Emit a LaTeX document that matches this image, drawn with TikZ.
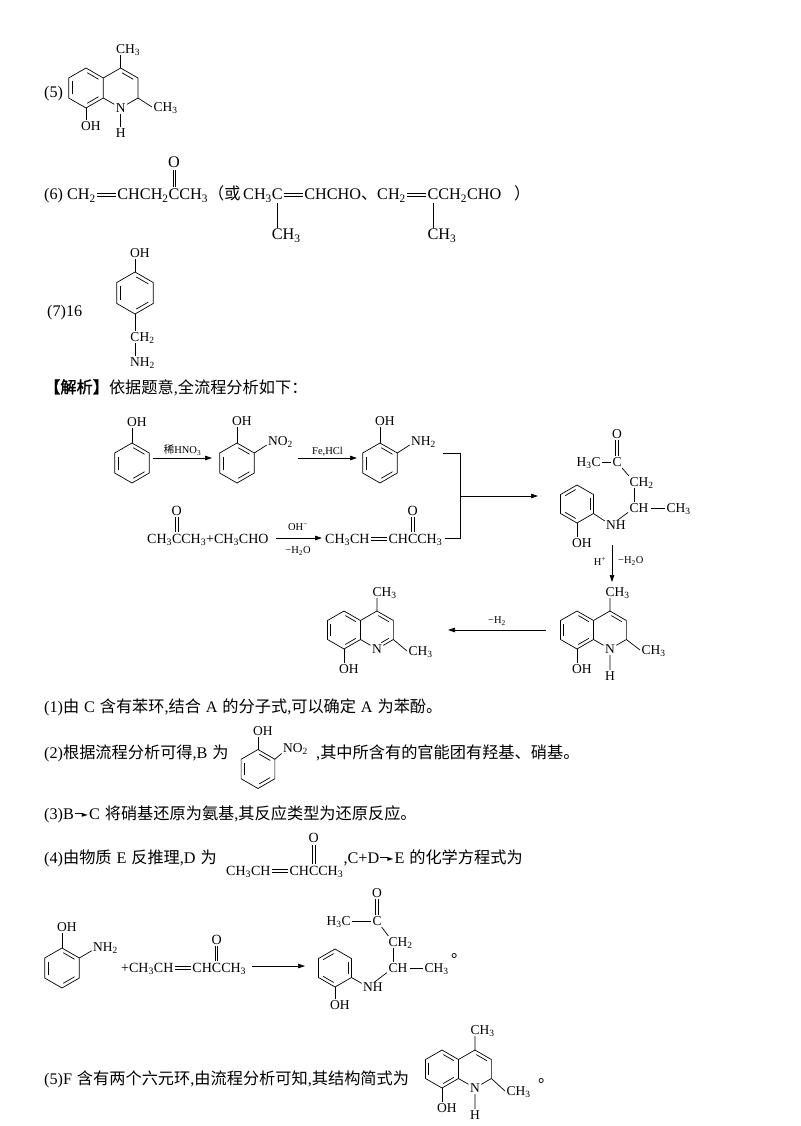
\documentclass[tikz,border=0pt]{standalone}
\usepackage{fontspec}
\usepackage{graphicx}
\setmainfont{Liberation Serif}
\newfontfamily\cjk{Noto Sans CJK SC}
\newfontfamily\cjkb{Noto Sans CJK SC}[FakeBold=1.5]
\newfontfamily\dejavu{DejaVu Sans}
\usetikzlibrary{calc,arrows.meta}
\newcommand\chemf{\fontsize{13.5}{15}\selectfont}
\newcommand\formf{\fontsize{14}{16}\selectfont}
\newcommand\mainf{\fontsize{16.2}{19}\selectfont}
\newcommand\smallf{\fontsize{10.5}{12}\selectfont}
\newcommand\dn[1]{\textsubscript{#1}}
\newcommand\up[1]{\textsuperscript{#1}}
\newcommand\zh[1]{{\cjk #1}}
\newcommand\gp{\hspace{0.3em}}
\newcommand\dbl{\kern1.5pt\rlap{\rule[0.2em]{1.15em}{0.55pt}}\rule[0.42em]{1.15em}{0.55pt}\kern1.5pt}
\newcommand\coC[1][2]{\rlap{\makebox[0.667em]{\raisebox{0.78em}{\rule{0.5pt}{\dimexpr#1em-0.95em\relax}\kern1.6pt\rule{0.5pt}{\dimexpr#1em-0.95em\relax}}}}\rlap{\makebox[0.667em]{\raisebox{#1em}{O}}}C}
\newcommand\meC{\rlap{\makebox[0.667em]{\raisebox{-1.75em}{\rule{0.5pt}{1.55em}}}}\rlap{\makebox[0.667em]{\raisebox{-2.45em}{C\rlap{H\dn3}}}}C}
\newcommand\rar{\kern1pt\rule[0.32em]{0.5em}{0.6pt}\kern-1pt\raisebox{0.1em}{\dejavu\fontsize{8}{8}\selectfont ►}\kern1pt}
\newcommand\hexring[4]{%
 \coordinate (#1-c) at (#2,#3);
 \coordinate (#1-1) at (#2,#3-#4);
 \coordinate (#1-2) at (#2+0.866*#4,#3-0.5*#4);
 \coordinate (#1-3) at (#2+0.866*#4,#3+0.5*#4);
 \coordinate (#1-4) at (#2,#3+#4);
 \coordinate (#1-5) at (#2-0.866*#4,#3+0.5*#4);
 \coordinate (#1-6) at (#2-0.866*#4,#3-0.5*#4);}
\newcommand\hexdraw[1]{\draw[bd] (#1-1)--(#1-2)--(#1-3)--(#1-4)--(#1-5)--(#1-6)--cycle;}
\newcommand\inl[3]{\draw[bd,shorten <=1.5pt,shorten >=1.5pt] ($(#1-#2)!0.2!(#1-c)$) -- ($(#1-#3)!0.2!(#1-c)$);}
\newcommand\benz[1]{\hexdraw{#1}\inl{#1}{5}{6}\inl{#1}{1}{2}\inl{#1}{3}{4}}
\tikzset{
 bd/.style={line width=0.7pt},
 atm/.style={inner sep=1.3pt, font=\chemf, text height=9pt, text depth=0pt},
 tx/.style={anchor=base west, inner sep=0pt, font=\mainf},
 arr/.style={bd,-{Triangle[length=7pt,width=4.5pt]}},
 lab/.style={inner sep=1pt, font=\smallf},
}
\begin{document}
\begin{tikzpicture}[x=1pt,y=-1pt]
\useasboundingbox[fill=white] (0,0) rectangle (800,1126);
% ---------- (5) top
\node[tx] (t5) at (44,98) {(5)};
\hexring{a}{86}{88}{20}\hexring{b}{120.64}{88}{20}
\benz{a}
\node[atm] (aN) at (b-4) {N};
\draw[bd] (b-6)--(b-1)--(b-2)--(b-3);
\draw[bd] (b-3)--(aN); \draw[bd] (aN)--(b-5);
\inl{b}{1}{2}
\node[atm] (aH) at (120.64,133) {H}; \draw[bd] (aN)--(aH);
\node[atm] (aMe1) at (120.64,49) {C\rlap{H\dn3}}; \draw[bd] (b-1)--(aMe1);
\node[atm,anchor=west] (aMe2) at (152,107) {CH\dn3}; \draw[bd] (b-3)--(aMe2.west);
\node[atm] (aOH) at (86,126) {O\rlap{H}}; \draw[bd] (a-4)--(aOH);
% ---------- (6)
\node[tx] (t6) at (44,200) {(6)\ CH\dn2\dbl CHCH\dn2\coC CH\dn3\zh{（或}\,CH\dn3\meC\dbl CHCHO\zh{、}CH\dn2\dbl\meC CH\dn2CHO\hspace{0.8em}\zh{）}};
% ---------- (7)
\node[tx] (t7) at (47,316) {(7)16};
\hexring{c}{135}{293}{21}\benz{c}
\node[atm] (cOH) at (135,253) {O\rlap{H}}; \draw[bd] (c-1)--(cOH);
\node[atm] (cCH2) at (135,337) {C\rlap{H\dn2}}; \draw[bd] (c-4)--(cCH2);
\node[atm] (cNH2) at (135,362) {N\rlap{H\dn2}}; \draw[bd] (cCH2)--(cNH2);
% ---------- jiexi
\node[tx] (tj) at (44,393) {{\cjkb 【解析】}\zh{依据题意},\zh{全流程分析如下：}};
% ---------- scheme row 1
\hexring{p}{132}{463}{20}\benz{p}
\node[atm] (pOH) at (132,422) {O\rlap{H}}; \draw[bd] (p-1)--(pOH);
\coordinate (r1a) at (153,458); \coordinate (r1b) at (212,458);
\draw[arr] (r1a)--(r1b) node[lab,midway,above=1pt] (l1) {\zh{稀}HNO\dn3};
\hexring{q}{237}{463}{20}\benz{q}
\node[atm] (qOH) at (237,421) {O\rlap{H}}; \draw[bd] (q-1)--(qOH);
\node[atm] (qN) at (273,441) {N\rlap{O\dn2}}; \draw[bd] (q-2)--(qN);
\coordinate (r2a) at (298,458); \coordinate (r2b) at (357,458);
\draw[arr] (r2a)--(r2b) node[lab,midway,above=1pt] (l2) {Fe,HCl};
\hexring{s}{380}{463}{20}\benz{s}
\node[atm] (sOH) at (380,421) {O\rlap{H}}; \draw[bd] (s-1)--(sOH);
\node[atm] (sN) at (416,441) {N\rlap{H\dn2}}; \draw[bd] (s-2)--(sN);
% bracket
\coordinate (bk1) at (443,453); \coordinate (bk2) at (460,453);
\coordinate (bk3) at (460,538); \coordinate (bk4) at (445,538);
\coordinate (bkm) at (460,496); \coordinate (bke) at (538,496);
\draw[bd] (bk1)--(bk2)--(bk3)--(bk4);
\draw[arr] (bkm)--(bke);
% ---------- scheme row 2
\node[tx,font=\formf] (r2l) at (147,543) {CH\dn3\coC CH\dn3+CH\dn3CHO};
\coordinate (r3a) at (276,538); \coordinate (r3b) at (322,538);
\draw[arr] (r3a)--(r3b);
\node[lab] (l3a) at (298,527) {OH\up{−}};
\node[lab] (l3b) at (298,551) {−H\dn2O};
\node[tx,font=\formf] (r2r) at (325,543) {CH\dn3CH\dbl CH\coC CH\dn3};
% ---------- product E
\hexring{e}{577}{504}{19}\hexdraw{e}\inl{e}{6}{1}\inl{e}{2}{3}\inl{e}{4}{5}
\node[atm] (eOH) at (577,543) {O\rlap{H}}; \draw[bd] (e-4)--(eOH);
\node[atm] (eN) at (611,525) {N\rlap{H}}; \draw[bd] (e-3)--(eN);
\node[atm] (eCH) at (634,508) {C\rlap{H}}; \draw[bd] (eN)--(eCH);
\node[atm,anchor=west] (eMe) at (665,508) {CH\dn3}; \draw[bd] ([xshift=11pt]eCH.east)--(eMe.west);
\node[atm] (eCH2) at (634,482) {C\rlap{H\dn2}}; \draw[bd] (eCH)--(eCH2);
\node[atm] (eC) at (617,462) {C}; \draw[bd] (eCH2)--(eC);
\node[atm] (eO) at (617,434) {O};
\draw[bd] ([xshift=-1.6pt]eC.north)--([xshift=-1.6pt]eO.south);
\draw[bd] ([xshift=1.6pt]eC.north)--([xshift=1.6pt]eO.south);
\node[atm] (eMe2) at (596,462) {\llap{H\dn3}C}; \draw[bd] (eMe2)--(eC);
% arrow down
\coordinate (d1) at (612,545); \coordinate (d2) at (612,582);
\draw[arr] (d1)--(d2);
\node[lab] (lh) at (600,561) {H\up{+}};
\node[lab,anchor=west] (lw) at (617,561) {−H\dn2O};
% ---------- F
\hexring{f}{577}{630}{19}\hexring{g}{609.91}{630}{19}
\benz{f}
\node[atm] (fN) at (g-4) {N};
\draw[bd] (g-6)--(g-1)--(g-2)--(g-3);
\draw[bd] (g-3)--(fN); \draw[bd] (fN)--(g-5);
\inl{g}{1}{2}
\node[atm] (fMe1) at (610,592) {C\rlap{H\dn3}}; \draw[bd] (g-1)--(fMe1);
\node[atm,anchor=west] (fMe2) at (640,650) {CH\dn3}; \draw[bd] (g-3)--(fMe2.west);
\node[atm] (fH) at (610,676) {H}; \draw[bd] (fN)--(fH);
\node[atm] (fOH) at (577,669) {O\rlap{H}}; \draw[bd] (f-4)--(fOH);
% arrow left
\coordinate (la) at (546,630); \coordinate (lb) at (448,630);
\draw[arr] (la)--(lb);
\node[lab] (l4) at (497,621) {−H\dn2};
% ---------- G
\hexring{h}{344}{630}{19}\hexring{k}{376.91}{630}{19}
\benz{h}
\node[atm] (hN) at (k-4) {N};
\draw[bd] (k-6)--(k-1)--(k-2)--(k-3);
\draw[bd] (k-3)--(hN); \draw[bd] (hN)--(k-5);
\inl{k}{1}{2}
\draw[bd,shorten <=1.5pt,shorten >=5pt] ($(k-3)!0.2!(k-c)$)--($(k-4)!0.2!(k-c)$);
\node[atm] (hMe1) at (377,592) {C\rlap{H\dn3}}; \draw[bd] (k-1)--(hMe1);
\node[atm,anchor=west] (hMe2) at (407,651) {CH\dn3}; \draw[bd] (k-3)--(hMe2.west);
\node[atm] (hOH) at (344,669) {O\rlap{H}}; \draw[bd] (h-4)--(hOH);
% ---------- text (1)-(4)
\node[tx] (t1) at (44,712) {(1)\zh{由}\gp C\gp\zh{含有苯环},\zh{结合}\gp A\gp\zh{的分子式},\zh{可以确定}\gp A\gp\zh{为苯酚。}};
\node[tx] (t2a) at (44,758) {(2)\zh{根据流程分析可得},B\gp\zh{为}};
\hexring{m}{258}{769}{19.5}\benz{m}
\node[atm] (mOH) at (258,731) {O\rlap{H}}; \draw[bd] (m-1)--(mOH);
\node[atm] (mN) at (288,748) {N\rlap{O\dn2}}; \draw[bd] (m-2)--(mN);
\node[tx] (t2b) at (316,758) {,\zh{其中所含有的官能团有羟基、硝基。}};
\node[tx] (t3) at (44,819) {(3)B\rar C\gp\zh{将硝基还原为氨基},\zh{其反应类型为还原反应。}};
\node[tx] (t4a) at (44,863) {(4)\zh{由物质}\gp E\gp\zh{反推理},D\gp\zh{为}};
\node[tx,font=\formf] (t4f) at (226,875) {CH\dn3CH\dbl CH\coC[2.3]CH\dn3};
\node[tx] (t4b) at ([yshift=12pt]t4f.base east) {,C+D\rar E\gp\zh{的化学方程式为}};
% ---------- equation
\hexring{u}{62}{968}{20}\benz{u}
\node[atm] (uOH) at (62,927) {O\rlap{H}}; \draw[bd] (u-1)--(uOH);
\node[atm] (uN) at (98,947) {N\rlap{H\dn2}}; \draw[bd] (u-2)--(uN);
\node[tx,font=\formf] (eqD) at (121,972) {+CH\dn3CH\dbl CH\coC CH\dn3};
\coordinate (qa) at (252,966); \coordinate (qb) at (305,966);
\draw[arr] (qa)--(qb);
\hexring{v}{335}{968}{19}\hexdraw{v}\inl{v}{6}{1}\inl{v}{2}{3}\inl{v}{4}{5}
\node[atm] (vOH) at (335,1005) {O\rlap{H}}; \draw[bd] (v-4)--(vOH);
\node[atm] (vN) at (368,987) {N\rlap{H}}; \draw[bd] (v-3)--(vN);
\node[atm] (vCH) at (393,968) {C\rlap{H}}; \draw[bd] (vN)--(vCH);
\node[atm,anchor=west] (vMe) at (423,968) {CH\dn3}; \draw[bd] ([xshift=11pt]vCH.east)--(vMe.west);
\node[atm] (vCH2) at (393,942) {C\rlap{H\dn2}}; \draw[bd] (vCH)--(vCH2);
\node[atm] (vC) at (377,921) {C}; \draw[bd] (vCH2)--(vC);
\node[atm] (vO) at (377,893) {O};
\draw[bd] ([xshift=-1.6pt]vC.north)--([xshift=-1.6pt]vO.south);
\draw[bd] ([xshift=1.6pt]vC.north)--([xshift=1.6pt]vO.south);
\node[atm] (vMe2) at (346,921) {\llap{H\dn3}C}; \draw[bd] (vMe2)--(vC);
\node[tx] (dot1) at (451,957) {\zh{。}};
% ---------- (5) bottom
\node[tx] (t5b) at (44,1084) {(5)F\gp\zh{含有两个六元环},\zh{由流程分析可知},\zh{其结构简式为}};
\hexring{w}{442}{1069}{19}\hexring{x}{474.91}{1069}{19}
\benz{w}
\node[atm] (wN) at (x-4) {N};
\draw[bd] (x-6)--(x-1)--(x-2)--(x-3);
\draw[bd] (x-3)--(wN); \draw[bd] (wN)--(x-5);
\inl{x}{1}{2}
\node[atm] (wMe1) at (475,1030) {C\rlap{H\dn3}}; \draw[bd] (x-1)--(wMe1);
\node[atm,anchor=west] (wMe2) at (505,1091) {CH\dn3}; \draw[bd] (x-3)--(wMe2.west);
\node[atm] (wH) at (475,1115) {H}; \draw[bd] (wN)--(wH);
\node[atm] (wOH) at (442,1108) {O\rlap{H}}; \draw[bd] (w-4)--(wOH);
\node[tx] (dot2) at (538,1082) {\zh{。}};
\end{tikzpicture}
\end{document}
